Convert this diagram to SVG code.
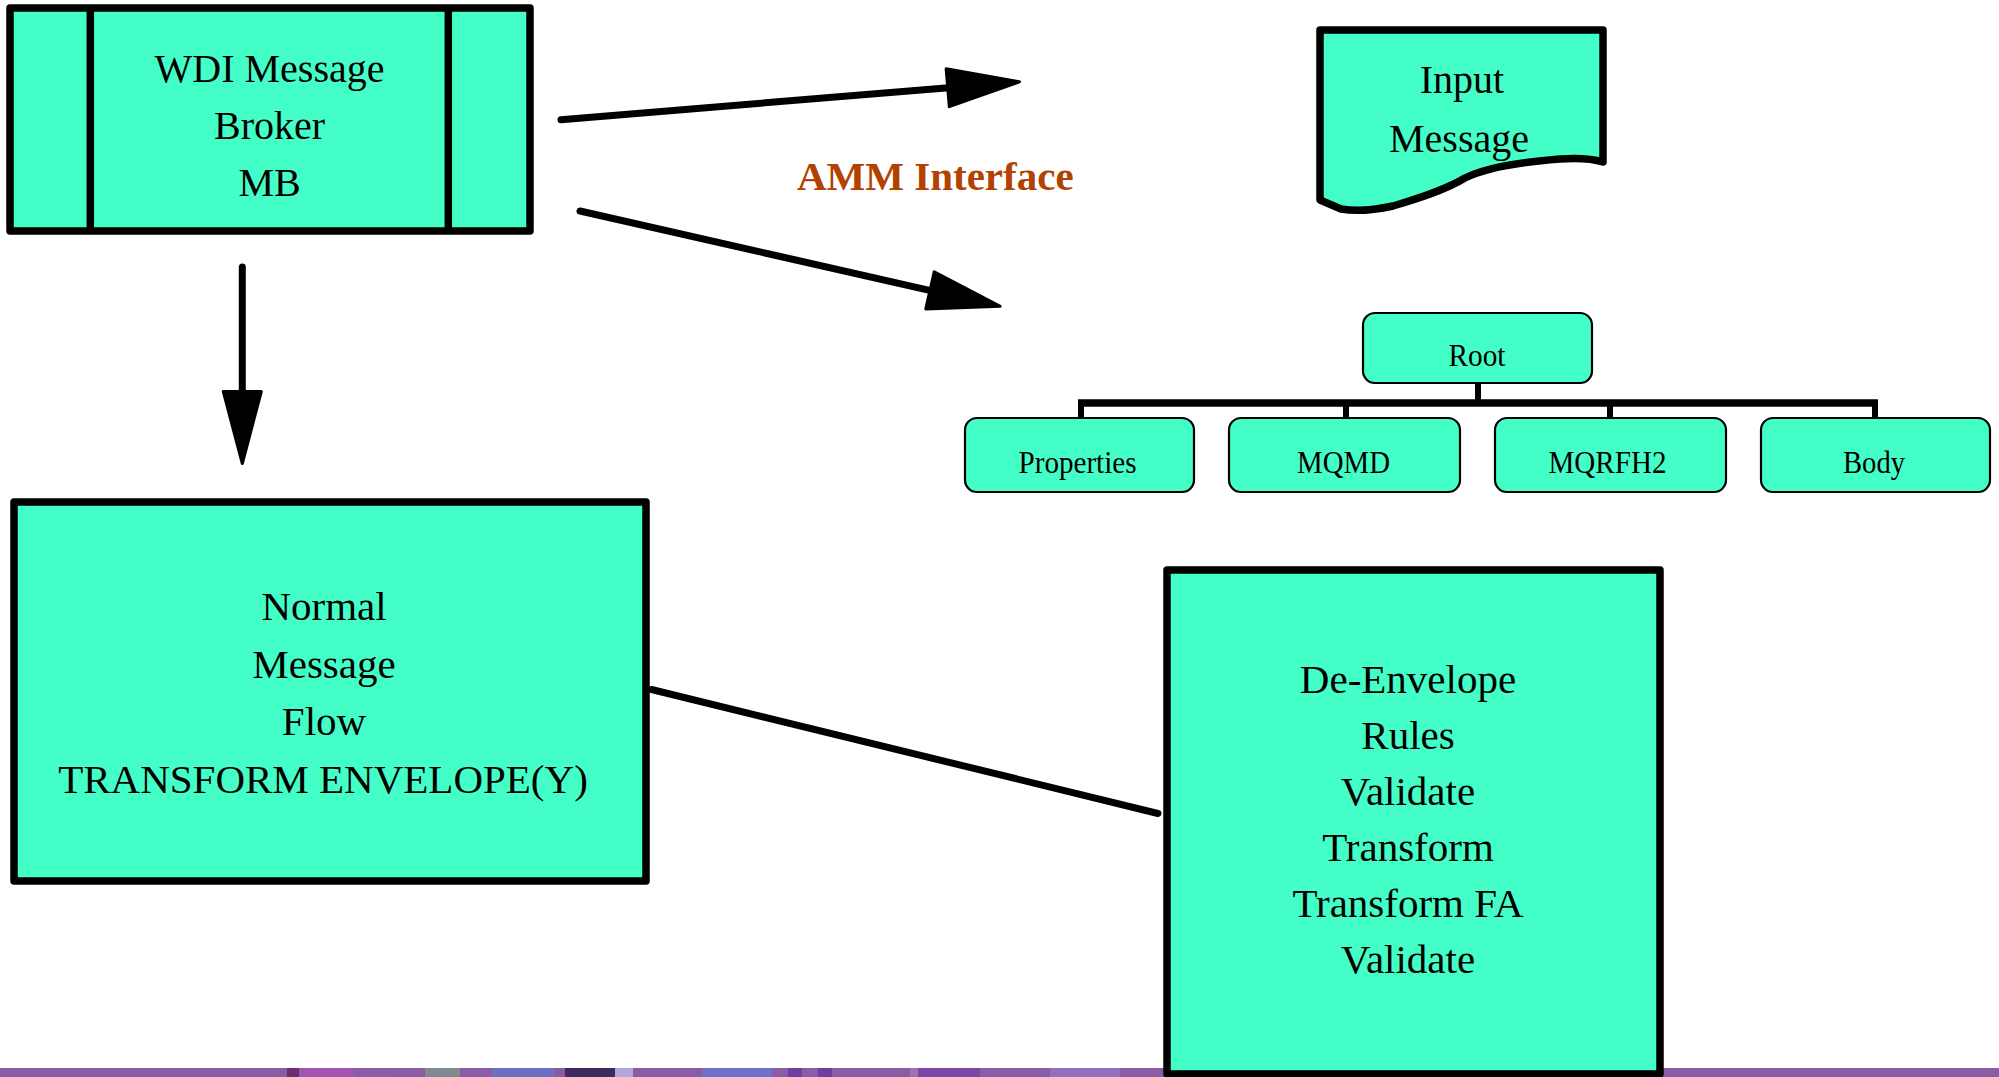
<svg xmlns="http://www.w3.org/2000/svg" width="1999" height="1077" viewBox="0 0 1999 1077">
  <style>
    .box { fill: #43FFC7; stroke: #000; stroke-width: 7.5; stroke-linejoin: round; }
    .tbox { fill: #43FFC7; stroke: #000; stroke-width: 2.2; }
    .lbl { font-family: "Liberation Serif", "Times New Roman", serif; font-size: 41px; fill: #000; text-anchor: middle; }
    .tlbl { font-family: "Liberation Serif", "Times New Roman", serif; font-size: 32px; fill: #000; text-anchor: middle; }
    .conn { stroke: #000; stroke-width: 7; fill: none; stroke-linecap: round; }
    .tree { stroke: #000; fill: none; }
  </style>
  <defs>
    <marker id="arrow" viewBox="0 0 80 44" markerWidth="80" markerHeight="44" refX="8" refY="22" orient="auto" markerUnits="userSpaceOnUse">
      <path d="M4,3 L76,22 L4,41 Z" fill="#000" stroke="#000" stroke-width="3" stroke-linejoin="round"/>
    </marker>
  </defs>

  <rect x="0" y="0" width="1999" height="1077" fill="#fff"/>

  <!-- decorative bottom band -->
  <g id="band">
    <rect x="0" y="1068" width="1999" height="9" fill="#8B5CA6"/>
    <rect x="287" y="1068" width="12" height="9" fill="#6A2F6E"/>
    <rect x="300" y="1068" width="55" height="9" fill="#A553B2"/>
    <rect x="355" y="1068" width="40" height="9" fill="#8C5CA8"/>
    <rect x="425" y="1068" width="35" height="9" fill="#808A90"/>
    <rect x="492" y="1068" width="62" height="9" fill="#6D6FC0"/>
    <rect x="565" y="1068" width="50" height="9" fill="#3E2A5C"/>
    <rect x="615" y="1068" width="18" height="9" fill="#B0A8D8"/>
    <rect x="702" y="1068" width="70" height="9" fill="#6F70C8"/>
    <rect x="788" y="1068" width="14" height="9" fill="#6E3FA0"/>
    <rect x="818" y="1068" width="14" height="9" fill="#6E3FA0"/>
    <rect x="910" y="1068" width="8" height="9" fill="#A070B0"/>
    <rect x="918" y="1068" width="62" height="9" fill="#7B46A8"/>
    <rect x="1050" y="1068" width="70" height="9" fill="#9070C0"/>
  </g>

  <g id="connectors">
    <line class="conn" x1="561" y1="119.7" x2="951.7" y2="87.4" marker-end="url(#arrow)"/>
    <line class="conn" x1="580" y1="211" x2="933.9" y2="291.3" marker-end="url(#arrow)"/>
    <line class="conn" x1="242.3" y1="267" x2="242.3" y2="395.5" marker-end="url(#arrow)"/>
    <line class="conn" x1="651.5" y1="689.5" x2="1158" y2="813.5"/>
    <g id="tree-links" class="tree">
      <line x1="1478" y1="383" x2="1478" y2="403" stroke-width="6"/>
      <line x1="1078" y1="403" x2="1878" y2="403" stroke-width="7.5"/>
      <line x1="1081" y1="403" x2="1081" y2="418" stroke-width="6"/>
      <line x1="1346" y1="403" x2="1346" y2="418" stroke-width="6"/>
      <line x1="1610" y1="403" x2="1610" y2="418" stroke-width="6"/>
      <line x1="1875" y1="403" x2="1875" y2="418" stroke-width="6"/>
    </g>
  </g>

  <g id="wdi-broker">
    <rect class="box" x="10" y="8" width="520" height="223"/>
    <line x1="90.3" y1="8" x2="90.3" y2="231" stroke="#000" stroke-width="7.5"/>
    <line x1="448.3" y1="8" x2="448.3" y2="231" stroke="#000" stroke-width="7.5"/>
    <text class="lbl" font-size="40" style="font-size:40px" x="269.5" y="81.7">WDI Message</text>
    <text class="lbl" style="font-size:40px" x="269.5" y="139">Broker</text>
    <text class="lbl" style="font-size:40px" x="269.5" y="195.5">MB</text>
  </g>

  <g id="amm-label">
    <text x="797" y="190" font-family="'Liberation Serif', 'Times New Roman', serif" font-size="41" font-weight="bold" fill="#B34100">AMM Interface</text>
  </g>

  <g id="input-message">
    <path class="box" d="M1320,30 L1603,30 L1603,162 C1590,158 1575,158 1560,159 C1520,162 1485,168 1465,178 C1445,190 1420,198 1393,206 C1370,211 1352,211 1341,209 L1320,200 Z"/>
    <text class="lbl" style="font-size:40px" x="1462" y="93.3">Input</text>
    <text class="lbl" style="font-size:40px" x="1459" y="151.7">Message</text>
  </g>

  <g id="root">
    <rect class="tbox" x="1363" y="313" width="229" height="70" rx="12" ry="12"/>
    <text class="tlbl" x="1477" y="365.5" textLength="57" lengthAdjust="spacingAndGlyphs">Root</text>
  </g>
  <g id="properties">
    <rect class="tbox" x="965" y="418" width="229" height="74" rx="12" ry="12"/>
    <text class="tlbl" x="1077.5" y="472.7" textLength="118" lengthAdjust="spacingAndGlyphs">Properties</text>
  </g>
  <g id="mqmd">
    <rect class="tbox" x="1229" y="418" width="231" height="74" rx="12" ry="12"/>
    <text class="tlbl" x="1343.5" y="472.7" textLength="93" lengthAdjust="spacingAndGlyphs">MQMD</text>
  </g>
  <g id="mqrfh2">
    <rect class="tbox" x="1495" y="418" width="231" height="74" rx="12" ry="12"/>
    <text class="tlbl" x="1607.5" y="472.7" textLength="118" lengthAdjust="spacingAndGlyphs">MQRFH2</text>
  </g>
  <g id="body">
    <rect class="tbox" x="1761" y="418" width="229" height="74" rx="12" ry="12"/>
    <text class="tlbl" x="1874" y="472.7" textLength="62" lengthAdjust="spacingAndGlyphs">Body</text>
  </g>

  <g id="normal-flow">
    <rect class="box" x="14" y="502" width="632" height="379"/>
    <text class="lbl" x="324" y="620">Normal</text>
    <text class="lbl" x="324" y="677.5">Message</text>
    <text class="lbl" x="324" y="735">Flow</text>
    <text class="lbl" x="323" y="793">TRANSFORM ENVELOPE(Y)</text>
  </g>

  <g id="de-envelope">
    <rect class="box" x="1167" y="570" width="493" height="504"/>
    <text class="lbl" x="1408" y="692.7">De-Envelope</text>
    <text class="lbl" x="1408" y="748.8">Rules</text>
    <text class="lbl" x="1408" y="804.9">Validate</text>
    <text class="lbl" x="1408" y="861">Transform</text>
    <text class="lbl" x="1408" y="917.1">Transform FA</text>
    <text class="lbl" x="1408" y="973.2">Validate</text>
  </g>
</svg>
